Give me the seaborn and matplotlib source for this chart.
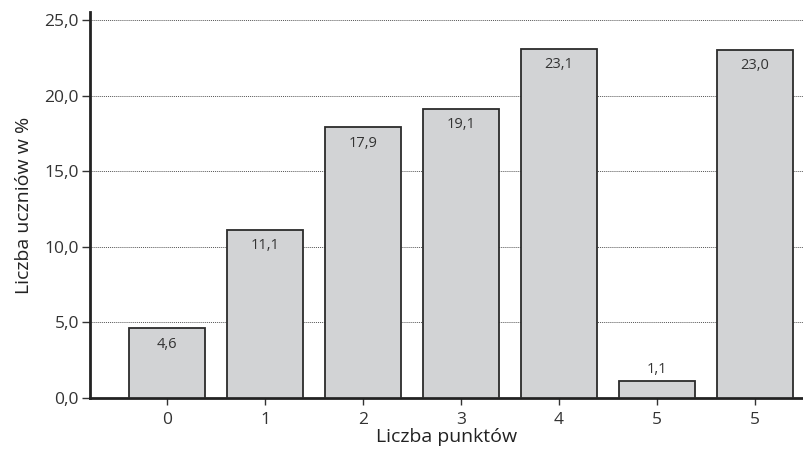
import matplotlib
matplotlib.use("Agg")
import matplotlib.pyplot as plt
import seaborn as sns
import pandas as pd

categories = ["0", "1", "2", "3", "4", "5", "5"]
values = [4.6, 11.1, 17.9, 19.1, 23.1, 1.1, 23.0]
y_ticks = [0, 5, 10, 15, 20, 25]

sns.set_theme(style="white")
plt.rcParams['font.family'] = ['Open Sans', 'DejaVu Sans']

df = pd.DataFrame({"pos": list(range(len(values))), "val": values})

fig = plt.figure(figsize=(8.04, 4.5), dpi=100)
ax = fig.add_axes([0.112, 0.1156, 0.888, 0.857])

sns.barplot(data=df, x="pos", y="val", ax=ax, color="#d2d3d5",
            edgecolor="#2b2b2b", linewidth=1.3, width=0.78, saturation=1, zorder=3)

ax.set_xlim(-0.786, 6.5)
ax.set_ylim(0, 25.5)
ax.set_yticks(y_ticks)
ax.set_yticklabels([f"{t:.1f}".replace(".", ",") for t in y_ticks], fontsize=12.5, color="#333333")
ax.set_xticks(range(len(categories)))
ax.set_xticklabels(categories, fontsize=12.5, color="#333333")

ax.yaxis.grid(True, linestyle=(0, (1, 1)), color="#555555", linewidth=0.7, zorder=0)
ax.set_axisbelow(True)

for s in ["top", "right"]:
    ax.spines[s].set_visible(False)
for s in ["left", "bottom"]:
    ax.spines[s].set_color("#222222")
    ax.spines[s].set_linewidth(2.0)

ax.tick_params(axis="x", direction="out", length=5, width=1, color="#333333", pad=5, bottom=True)
ax.tick_params(axis="y", direction="out", length=6, width=1, color="#333333", pad=2, left=True)

for i, v in enumerate(values):
    txt = f"{v:.1f}".replace(".", ",")
    if v < 3:
        ax.annotate(txt, (i, v), xytext=(0, 3), textcoords="offset points",
                    ha="center", va="bottom", fontsize=10.5, color="#333333")
    else:
        ax.annotate(txt, (i, v), xytext=(0, -6), textcoords="offset points",
                    ha="center", va="top", fontsize=10.5, color="#333333")

ax.set_xlabel("Liczba punktów", fontsize=14, color="#222222", labelpad=0)
ax.set_ylabel("Liczba uczniów w %", fontsize=14, color="#222222", labelpad=8)

fig.savefig("out.png", dpi=100)
